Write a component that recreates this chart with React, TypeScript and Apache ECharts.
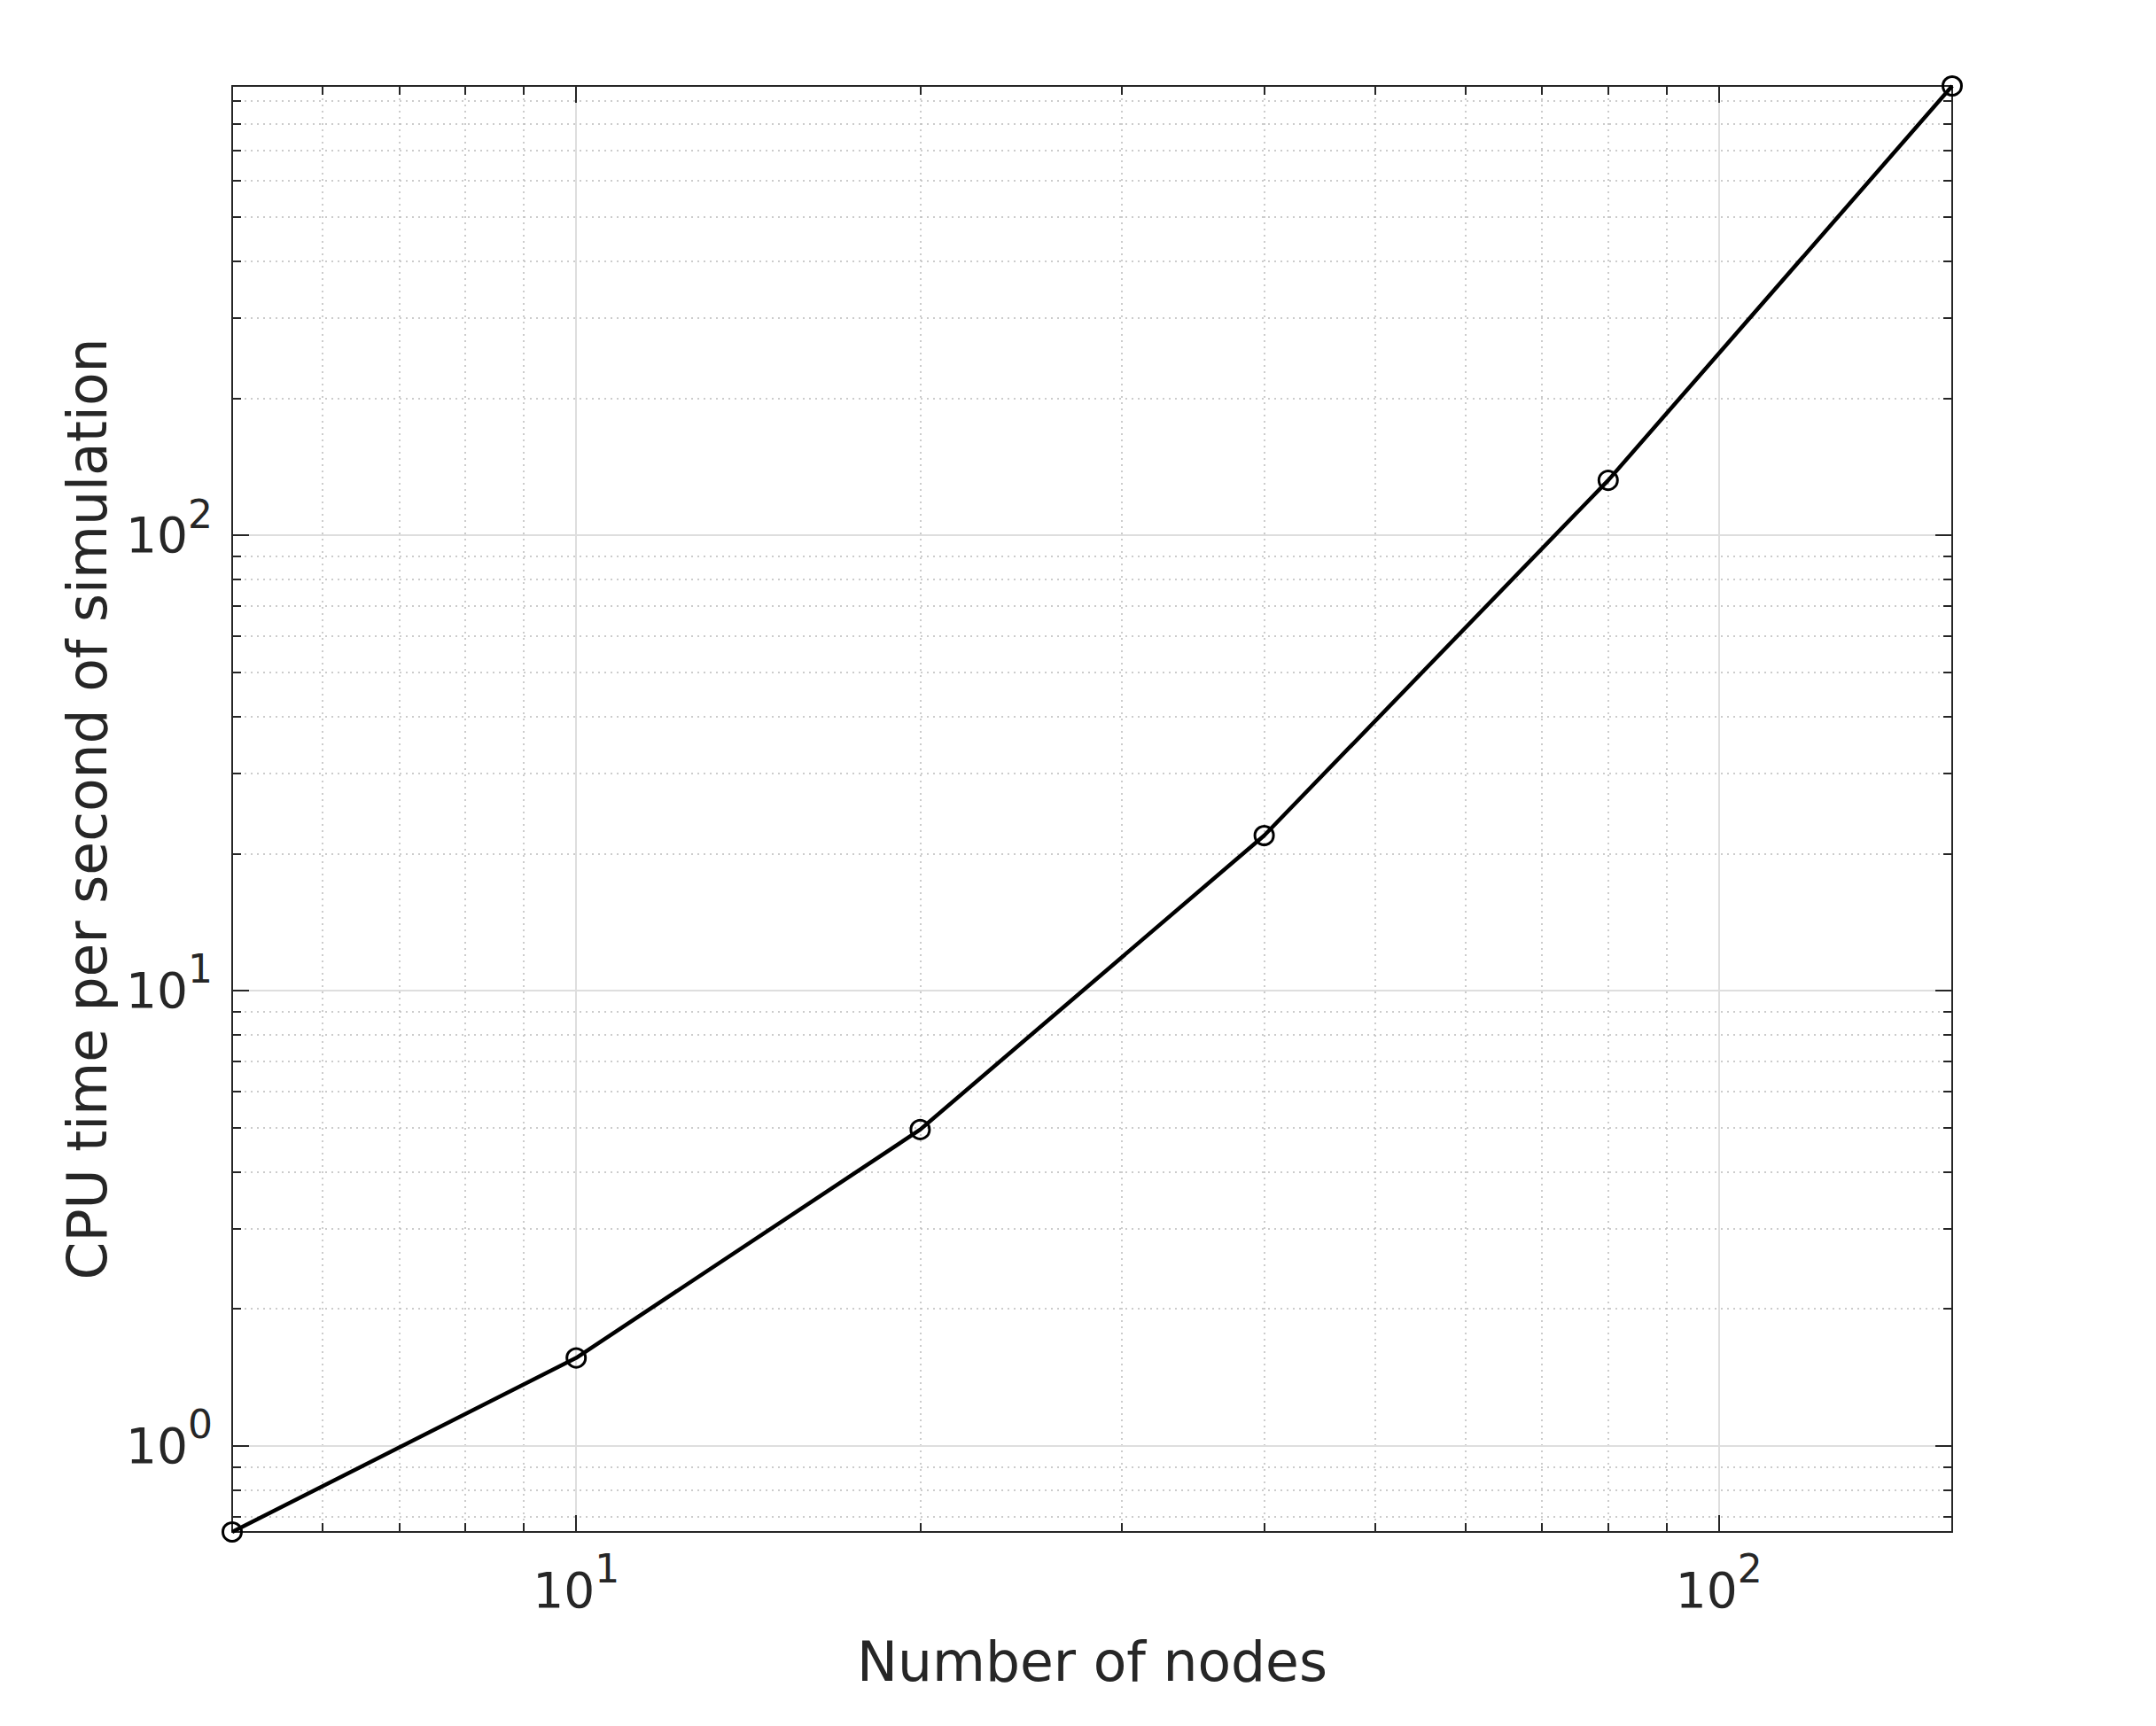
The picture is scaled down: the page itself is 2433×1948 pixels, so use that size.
import React, { useEffect, useRef } from "react";
import * as echarts from "echarts";

const nodes = [5, 10, 20, 40, 80, 160];
const cpuTime = [0.647, 1.56, 4.95, 21.9, 132, 970];

const xRange = [5, 160];
const yRange = [0.647, 970];

const xMajor = [10, 100];
const xMinor = [6, 7, 8, 9, 20, 30, 40, 50, 60, 70, 80, 90];
const yMajor = [1, 10, 100];
const yMinor = [0.7, 0.8, 0.9, 2, 3, 4, 5, 6, 7, 8, 9, 20, 30, 40, 50, 60, 70, 80, 90, 200, 300, 400, 500, 600, 700, 800, 900];

const xTitle = "Number of nodes";
const yTitle = "CPU time per second of simulation";

const FONT = "DejaVu Sans";
const INK = "#262626";

const richLabel = {
  b: { fontSize: 55, lineHeight: 55, fontFamily: FONT, color: INK },
  s: { fontSize: 44, lineHeight: 44, fontFamily: FONT, color: INK, padding: [0, 0, 48, 0] },
};

const powFmt = (v: number) => `{b|10}{s|${Math.round(Math.log10(v))}}`;

function makeAxes(dim: "x" | "y") {
  const isX = dim === "x";
  const range = isX ? xRange : yRange;
  const major = isX ? xMajor : yMajor;
  const minor = isX ? xMinor : yMinor;
  const mainPos = isX ? "bottom" : "left";
  const oppPos = isX ? "top" : "right";
  const base = { type: "log", logBase: 10, min: range[0], max: range[1], scale: true };
  const axisLine = { show: true, lineStyle: { color: INK, width: 2 } };
  return [
    {
      ...base,
      position: mainPos,
      name: isX ? xTitle : yTitle,
      nameLocation: "middle",
      nameGap: isX ? 110 : 132,
      nameTextStyle: { fontSize: 61.5, fontFamily: FONT, color: INK },
      axisLine,
      axisTick: { show: true, inside: true, length: 19, customValues: major, lineStyle: { color: INK, width: 2 } },
      axisLabel: { show: true, customValues: major, formatter: powFmt, rich: richLabel, margin: isX ? 38 : 22 },
      splitLine: { show: true, lineStyle: { color: "#dedede", width: 2, type: "solid" } },
      minorTick: { show: false },
      z: 3,
    },
    {
      ...base,
      position: mainPos,
      axisLine: { show: false },
      axisTick: { show: true, inside: true, length: 10, customValues: minor, lineStyle: { color: INK, width: 2 } },
      axisLabel: { show: false, customValues: minor },
      splitLine: { show: true, lineStyle: { color: "#bcbcbc", width: 1.5, type: [2, 5] } },
      z: 2,
    },
    {
      ...base,
      position: oppPos,
      axisLine,
      axisTick: { show: true, inside: true, length: 19, customValues: major, lineStyle: { color: INK, width: 2 } },
      axisLabel: { show: false, customValues: major },
      splitLine: { show: false },
      z: 3,
    },
    {
      ...base,
      position: oppPos,
      axisLine: { show: false },
      axisTick: { show: true, inside: true, length: 10, customValues: minor, lineStyle: { color: INK, width: 2 } },
      axisLabel: { show: false, customValues: minor },
      splitLine: { show: false },
      z: 3,
    },
  ];
}

export default function App() {
  const ref = useRef<HTMLDivElement>(null);

  useEffect(() => {
    document.body.style.margin = "0";
    if (!ref.current) return;
    const chart = echarts.init(ref.current, undefined, { renderer: "svg" });
    chart.setOption({
      animation: false,
      backgroundColor: "#ffffff",
      textStyle: { fontFamily: FONT },
      grid: { left: 262, top: 97, right: 230, bottom: 219, containLabel: false },
      xAxis: makeAxes("x"),
      yAxis: makeAxes("y"),
      series: [
        {
          type: "line",
          xAxisIndex: 0,
          yAxisIndex: 0,
          data: nodes.map((n, i) => [n, cpuTime[i]]),
          symbol: "circle",
          symbolSize: 21,
          showSymbol: true,
          clip: false,
          lineStyle: { color: "#000000", width: 4.5 },
          itemStyle: { color: "rgba(0,0,0,0)", borderColor: "#000000", borderWidth: 3 },
          z: 10,
        },
      ],
    });
    return () => chart.dispose();
  }, []);

  return (
    <div
      ref={ref}
      style={{ position: "fixed", left: 0, top: 0, width: 2433, height: 1948, background: "#fff" }}
    />
  );
}
